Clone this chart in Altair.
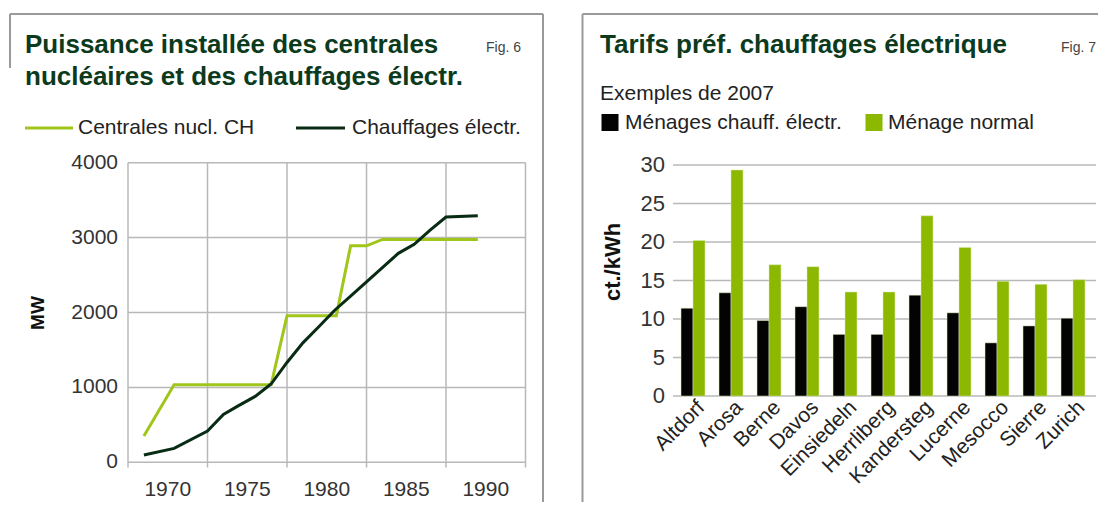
import altair as alt
import pandas as pd

# ---------------- Fig. 6 data ----------------
nuc_years = [1968.5, 1970.4, 1976.5, 1977.5, 1980.6, 1981.5, 1982.5, 1983.5, 1989.5]
nuc_mw = [350, 1035, 1035, 1955, 1955, 2890, 2890, 2975, 2975]
heat_years = [1968.5, 1970.4, 1972.5, 1973.5, 1974.4, 1975.5, 1976.5, 1977.5, 1978.5,
              1979.5, 1980.5, 1981.5, 1982.5, 1983.5, 1984.5, 1985.5, 1986.5, 1987.5, 1989.5]
heat_mw = [97, 186, 417, 640, 750, 880, 1045, 1333, 1595,
           1810, 2030, 2220, 2410, 2600, 2790, 2910, 3100, 3275, 3293]
series6 = ["Centrales nucl. CH", "Chauffages électr."]
mw_ticks = [0, 1000, 2000, 3000, 4000]
year_labels = [1970, 1975, 1980, 1985, 1990]
year_grid = [1967.5, 1972.5, 1977.5, 1982.5, 1987.5, 1992.5]

# ---------------- Fig. 7 data ----------------
cities = ["Altdorf", "Arosa", "Berne", "Davos", "Einsiedeln", "Herrliberg",
          "Kandersteg", "Lucerne", "Mesocco", "Sierre", "Zurich"]
tarif_elec = [11.4, 13.4, 9.8, 11.6, 8.0, 8.0, 13.1, 10.8, 6.9, 9.1, 10.1]
tarif_normal = [20.2, 29.35, 17.05, 16.8, 13.5, 13.5, 23.4, 19.3, 14.9, 14.5, 15.1]
series7 = ["Ménages chauff. électr.", "Ménage normal"]
tarif_ticks = [0, 5, 10, 15, 20, 25, 30]

FONT = "Liberation Sans"
TITLE_C = "#0c3a1c"
GREEN_LINE = "#a0c61a"
DARK_LINE = "#082b14"
BAR_BLACK = "#030303"
BAR_GREEN = "#8cb800"
GRID = "#b8b8b8"
BORDER = "#9a9a9a"
LABEL_C = "#333333"

# pixel scales (whole canvas, 1090 x 494)
LX = alt.Scale(domain=[1967.5, 1992.5], range=[120, 517.5], nice=False, zero=False)
LY = alt.Scale(domain=[0, 4000], range=[454.3, 154.7], nice=False, zero=False)
RX = alt.Scale(domain=cities, range=[666, 1084], paddingInner=0.37, paddingOuter=0.185)
RY = alt.Scale(domain=[0, 30], range=[388, 157], nice=False, zero=False)

one = pd.DataFrame({"k": [0]})


def txt(s, x, y, size, weight="normal", color="#1a1a1a", align="left",
        baseline="alphabetic", angle=0):
    return alt.Chart(one).mark_text(
        text=s, font=FONT, fontSize=size, fontWeight=weight, color=color,
        align=align, baseline=baseline, angle=angle
    ).encode(x=alt.value(x), y=alt.value(y))


def seg(x, x2, y, y2, color, width):
    return alt.Chart(one).mark_rule(color=color, strokeWidth=width).encode(
        x=alt.value(x), x2=alt.value(x2), y=alt.value(y), y2=alt.value(y2))


layers = []

# ---------- panel frames ----------
layers += [
    seg(2, 535, 6, 6, BORDER, 2),
    seg(2, 2, 6, 60, BORDER, 2),
    seg(535, 535, 6, 494, BORDER, 2),
    seg(574.5, 1090, 6, 6, BORDER, 2),
    seg(574.5, 574.5, 6, 494, BORDER, 2),
]

# ---------- Fig. 6 ----------
hgrid6 = pd.DataFrame({"v": mw_ticks, "a": year_grid[0], "b": year_grid[-1]})
layers.append(
    alt.Chart(hgrid6).mark_rule(color=GRID, strokeWidth=1.5).encode(
        y=alt.Y("v:Q", scale=LY, axis=None),
        x=alt.X("a:Q", scale=LX, axis=None), x2="b:Q")
)
vgrid6 = pd.DataFrame({"g": year_grid, "top": 4000, "bot": -70})
layers.append(
    alt.Chart(vgrid6).mark_rule(color=GRID, strokeWidth=1.5).encode(
        x=alt.X("g:Q", scale=LX, axis=None),
        y=alt.Y("top:Q", scale=LY, axis=None), y2="bot:Q")
)
lines6 = pd.concat([
    pd.DataFrame({"year": nuc_years, "mw": nuc_mw, "s": series6[0]}),
    pd.DataFrame({"year": heat_years, "mw": heat_mw, "s": series6[1]}),
])
layers.append(
    alt.Chart(lines6).mark_line(strokeWidth=3, strokeJoin="miter").encode(
        x=alt.X("year:Q", scale=LX, axis=None),
        y=alt.Y("mw:Q", scale=LY, axis=None),
        color=alt.Color("s:N", scale=alt.Scale(domain=series6, range=[GREEN_LINE, DARK_LINE]),
                        legend=None),
        order="year:Q")
)
ylab6 = pd.DataFrame({"v": mw_ticks})
layers.append(
    alt.Chart(ylab6).mark_text(font=FONT, fontSize=21, color=LABEL_C, align="right",
                               baseline="middle").encode(
        y=alt.Y("v:Q", scale=LY, axis=None), x=alt.value(110), text="v:N")
)
xlab6 = pd.DataFrame({"yr": year_labels})
layers.append(
    alt.Chart(xlab6).mark_text(font=FONT, fontSize=21, color=LABEL_C, align="center",
                               baseline="middle").encode(
        x=alt.X("yr:Q", scale=LX, axis=None), y=alt.value(482), text="yr:N")
)
layers += [
    txt("MW", 29.5, 305, 19, weight="bold", color="#111111", align="center",
        baseline="middle", angle=270),
    txt("Puissance installée des centrales", 17, 45, 26, weight="bold", color=TITLE_C),
    txt("nucléaires et des chauffages électr.", 17, 77, 26, weight="bold", color=TITLE_C),
    txt("Fig. 6", 478, 44, 14, color="#444444"),
    seg(17, 65, 120, 120, GREEN_LINE, 3),
    txt(series6[0], 70, 120, 21, baseline="middle", color="#222222"),
    seg(288, 337, 120, 120, DARK_LINE, 3),
    txt(series6[1], 344, 120, 21, baseline="middle", color="#222222"),
]

# ---------- Fig. 7 ----------
hgrid7 = pd.DataFrame({"v": tarif_ticks})
layers.append(
    alt.Chart(hgrid7).mark_rule(color=GRID, strokeWidth=1.5).encode(
        y=alt.Y("v:Q", scale=RY, axis=None), x=alt.value(665), x2=alt.value(1088))
)
bars7 = pd.concat([
    pd.DataFrame({"city": cities, "val": tarif_elec, "s": series7[0]}),
    pd.DataFrame({"city": cities, "val": tarif_normal, "s": series7[1]}),
])
layers.append(
    alt.Chart(bars7).mark_bar(stroke="#d8ecb0", strokeWidth=0.6, strokeOpacity=0.8).encode(
        x=alt.X("city:N", scale=RX, axis=None, sort=cities),
        xOffset=alt.XOffset("s:N", scale=alt.Scale(domain=series7), sort=series7),
        y=alt.Y("val:Q", scale=RY, axis=None),
        y2=alt.datum(0),
        color=alt.Color("s:N", scale=alt.Scale(domain=series7, range=[BAR_BLACK, BAR_GREEN]),
                        legend=None))
)
ylab7 = pd.DataFrame({"v": tarif_ticks})
layers.append(
    alt.Chart(ylab7).mark_text(font=FONT, fontSize=22, color=LABEL_C, align="right",
                               baseline="middle").encode(
        y=alt.Y("v:Q", scale=RY, axis=None), x=alt.value(657), text="v:N")
)
xlab7 = pd.DataFrame({"city": cities})
layers.append(
    alt.Chart(xlab7).mark_text(font=FONT, fontSize=21, color="#222222", align="right",
                               baseline="middle", angle=315, dy=12).encode(
        x=alt.X("city:N", scale=RX, axis=None, sort=cities), y=alt.value(388), text="city:N")
)
layers += [
    txt("ct./kWh", 605, 254, 22, weight="bold", color="#111111", align="center",
        baseline="middle", angle=270),
    txt("Tarifs préf. chauffages électrique", 592, 45, 26, weight="bold", color=TITLE_C),
    txt("Fig. 7", 1053, 44, 14, color="#444444"),
    txt("Exemples de 2007", 592, 92, 21, color="#222222"),
    alt.Chart(pd.DataFrame({"s": series7})).mark_square(size=289, opacity=1).encode(
        x=alt.value(602), y=alt.value(114.5),
        color=alt.Color("s:N", scale=alt.Scale(domain=series7, range=[BAR_BLACK, BAR_GREEN]),
                        legend=None)).transform_filter(alt.datum.s == series7[0]),
    alt.Chart(pd.DataFrame({"s": series7})).mark_square(size=289, opacity=1).encode(
        x=alt.value(866), y=alt.value(114.5),
        color=alt.Color("s:N", scale=alt.Scale(domain=series7, range=[BAR_BLACK, BAR_GREEN]),
                        legend=None)).transform_filter(alt.datum.s == series7[1]),
    txt(series7[0], 617, 115, 21, baseline="middle", color="#222222"),
    txt(series7[1], 880, 115, 21, baseline="middle", color="#222222"),
]

chart = alt.layer(*layers).resolve_scale(
    x="independent", y="independent", color="independent", xOffset="independent"
).properties(
    width=1090, height=494, padding=0, autosize=alt.AutoSizeParams(type="none")
).configure_view(stroke=None)

chart.save("out.html", embed_options={"renderer": "svg", "actions": False})
